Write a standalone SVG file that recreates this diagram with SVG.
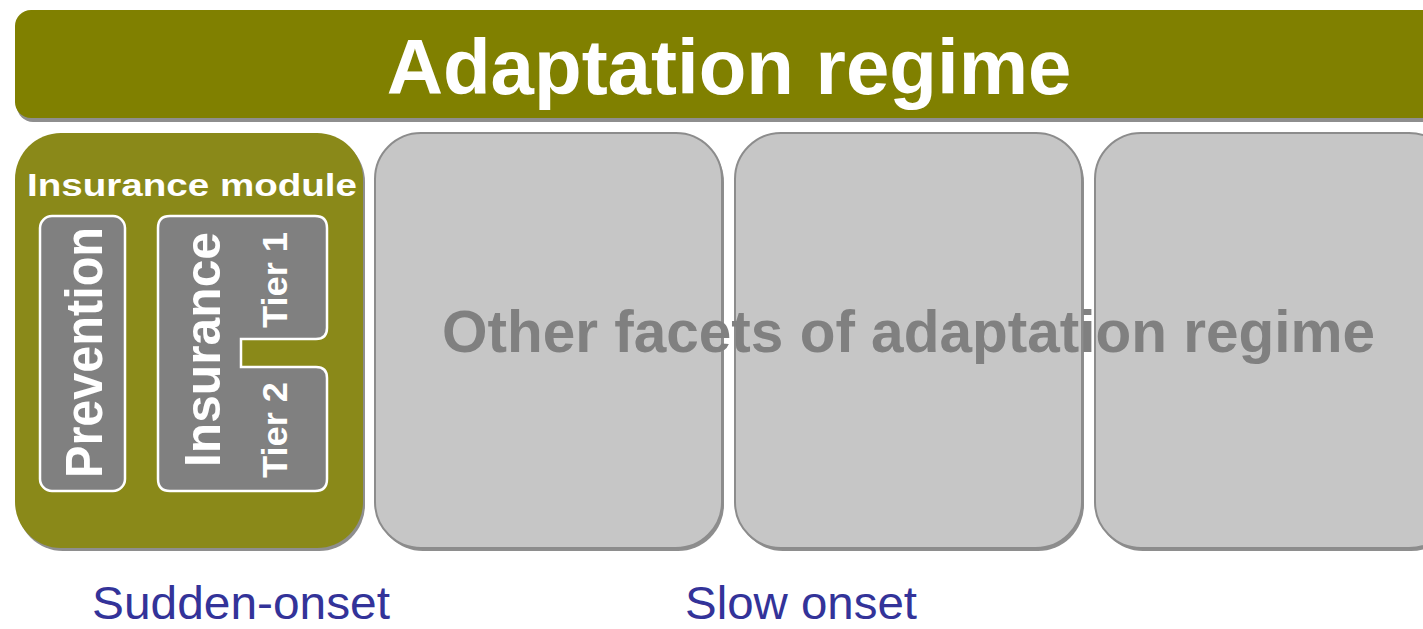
<svg xmlns="http://www.w3.org/2000/svg" width="1423" height="629" viewBox="0 0 1423 629">
<style>
.shadow{fill:#8e8e8e}
.olive{fill:#808000}
.module{fill:#8a8919}
.gray{fill:#c6c6c6;stroke:#8c8c8c;stroke-width:2}
.inner{fill:#808080;stroke:#ffffff;stroke-width:2.5}
.w{fill:#ffffff;font-family:"Liberation Sans",Arial,sans-serif;font-weight:bold}
.facet{fill:#808080;font-family:"Liberation Sans",Arial,sans-serif;font-weight:bold;font-size:58.5px}
.onset{fill:#333399;font-family:"Liberation Sans",Arial,sans-serif;font-size:46px}
</style>
<rect width="1423" height="629" fill="#ffffff"/>
<g id="title-bar">
  <rect class="shadow" x="17" y="13" width="1440" height="109" rx="16"/>
  <rect class="olive" x="15" y="10" width="1440" height="108" rx="16"/>
  <text class="w" x="729" y="94" font-size="78" text-anchor="middle">Adaptation regime</text>
</g>
<g id="insurance-module">
  <rect class="shadow" x="17" y="136" width="348" height="415" rx="46"/>
  <rect class="module" x="15" y="133" width="348" height="415" rx="46"/>
  <text class="w" x="27" y="196" font-size="32" textLength="330" lengthAdjust="spacingAndGlyphs">Insurance module</text>
</g>
<g id="prevention">
  <rect class="inner" x="40" y="216" width="85" height="275" rx="12"/>
  <text class="w" font-size="51" text-anchor="middle" transform="translate(102,352.5) rotate(-90)" textLength="251" lengthAdjust="spacingAndGlyphs">Prevention</text>
</g>
<g id="insurance">
  <path class="inner" d="M170,216 H315 Q327,216 327,228 V328 Q327,339 316,339 H241 V367 H316 Q327,367 327,378 V479 Q327,491 315,491 H170 Q158,491 158,479 V228 Q158,216 170,216 Z"/>
  <text class="w" font-size="50" text-anchor="middle" transform="translate(220,349.5) rotate(-90)" textLength="235" lengthAdjust="spacingAndGlyphs">Insurance</text>
  <text class="w" font-size="35" text-anchor="middle" transform="translate(287,280) rotate(-90)" textLength="96" lengthAdjust="spacingAndGlyphs">Tier 1</text>
  <text class="w" font-size="35" text-anchor="middle" transform="translate(287,430) rotate(-90)" textLength="96" lengthAdjust="spacingAndGlyphs">Tier 2</text>
</g>
<g id="facet-1">
  <rect class="shadow" x="377" y="136" width="347" height="415" rx="46"/>
  <rect class="gray" x="375" y="133" width="347" height="415" rx="46"/>
</g>
<g id="facet-2">
  <rect class="shadow" x="737" y="136" width="347" height="415" rx="46"/>
  <rect class="gray" x="735" y="133" width="347" height="415" rx="46"/>
</g>
<g id="facet-3">
  <rect class="shadow" x="1097" y="136" width="360" height="415" rx="46"/>
  <rect class="gray" x="1095" y="133" width="360" height="415" rx="46"/>
</g>
<g id="facets-label">
  <text class="facet" x="442" y="352" textLength="933" lengthAdjust="spacingAndGlyphs">Other facets of adaptation regime</text>
</g>
<g id="connectors"></g>
<g id="onset-labels">
  <text class="onset" x="92" y="619" textLength="298" lengthAdjust="spacingAndGlyphs">Sudden-onset</text>
  <text class="onset" x="685" y="619" textLength="232" lengthAdjust="spacingAndGlyphs">Slow onset</text>
</g>
</svg>
